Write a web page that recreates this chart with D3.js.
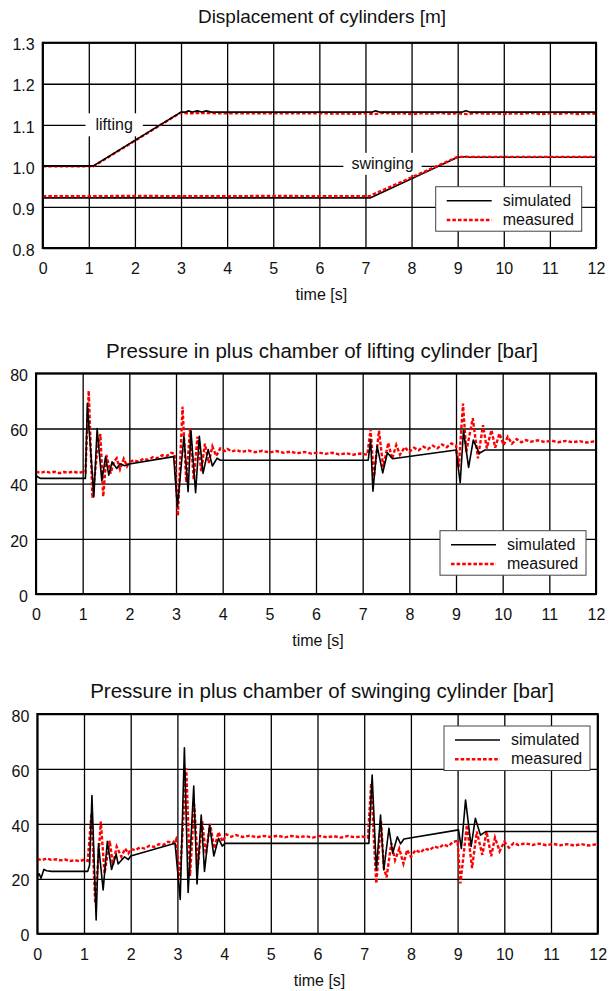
<!DOCTYPE html>
<html><head><meta charset="utf-8">
<script src="https://cdn.jsdelivr.net/npm/d3@7"></script>
<style>
body{margin:0;background:#fff}
text{font-family:"Liberation Sans",Arial,sans-serif;fill:#111}
</style>
</head><body>
<svg id="c" width="610" height="991"></svg>
<script>
// ---------- tick labels ----------
const timeTicks = [0,1,2,3,4,5,6,7,8,9,10,11,12];
const dispTicks = [0.8,0.9,1.0,1.1,1.2,1.3];
const pressTicks = [0,20,40,60,80];

// ---------- displacement of cylinders [m] ----------
const dispLiftSim = [[0,1.0],[1.1,1.0],[3.0,1.131],[3.1,1.131],[3.15,1.134],[3.25,1.131],[3.35,1.134],[3.45,1.131],[3.55,1.134],[3.65,1.131],[3.8,1.131],[7.15,1.131],[7.22,1.134],[7.3,1.131],[9.1,1.131],[9.18,1.134],[9.26,1.131],[12,1.131]];
const dispLiftMeas = [[0,0.999],[1.1,0.999],[2.98,1.129],[3.2,1.128],[3.5,1.129],[3.8,1.128],[4.2,1.128],[5,1.128],[6,1.128],[6.8,1.127],[7.0,1.128],[7.2,1.126],[7.4,1.129],[7.6,1.127],[7.8,1.128],[8.0,1.126],[8.2,1.128],[8.4,1.127],[8.6,1.129],[8.8,1.127],[9.0,1.128],[9.2,1.126],[9.4,1.129],[9.6,1.127],[9.8,1.128],[10.0,1.126],[10.2,1.128],[10.4,1.127],[10.6,1.129],[10.8,1.126],[11.0,1.128],[11.2,1.127],[11.4,1.129],[11.6,1.126],[11.8,1.128],[12,1.127]];
const dispSwingSim = [[0,0.922],[7.1,0.922],[9.0,1.021],[9.1,1.021],[9.18,1.023],[9.26,1.021],[12,1.021]];
const dispSwingMeas = [[0,0.926],[1,0.926],[2,0.927],[3,0.926],[4,0.926],[5,0.927],[6,0.926],[7.08,0.926],[9.0,1.022],[9.5,1.022],[10,1.022],[11,1.022],[12,1.022]];

// ---------- pressure lifting cylinder [bar] ----------
const liftPSim = [[0,43],[0.05,42.3],[0.1,41.9],[1.06,41.9],[1.1,69],[1.24,35.3],[1.31,60],[1.41,41],[1.49,49.7],[1.56,43.1],[1.63,47.9],[1.73,45.5],[1.8,47.2],[1.9,46.5],[2.0,47.1],[2.95,49.8],[3.03,31.6],[3.17,57.2],[3.26,37.1],[3.32,59.2],[3.42,36.7],[3.5,57.2],[3.58,43.7],[3.69,52.4],[3.78,46.4],[3.88,49.2],[3.95,48.5],[7.12,48.5],[7.17,56],[7.22,37.3],[7.31,53.6],[7.43,43.9],[7.53,51.2],[7.64,49],[9.0,52.2],[9.09,40.3],[9.16,59.2],[9.27,45.9],[9.37,55.8],[9.5,51],[9.62,52.2],[12,52.2]];
const liftPMeas = [[0,44.3],[0.1,43.9],[0.2,44.4],[0.3,44.0],[0.4,44.3],[0.5,43.8],[0.6,44.2],[0.7,44.0],[0.8,44.4],[0.9,43.9],[1.0,44.2],[1.06,44.0],[1.13,73.7],[1.21,34.7],[1.3,50],[1.38,58],[1.44,35.3],[1.51,50.4],[1.6,43.7],[1.67,48],[1.73,49.2],[1.8,45.2],[1.88,49],[1.95,46.3],[2.0,47.8],[2.1,48.5],[2.2,47.9],[2.3,49],[2.4,48.6],[2.5,49.6],[2.6,49.2],[2.7,50.3],[2.8,50],[2.9,51.2],[2.97,50.8],[3.04,28.3],[3.14,67.9],[3.22,40.5],[3.3,60],[3.38,41.5],[3.46,57],[3.54,44.5],[3.62,54.5],[3.7,47.5],[3.78,53.5],[3.86,50],[3.95,52.8],[4.05,51.8],[4.1,52.6],[4.2,51.7],[4.3,52.2],[4.4,51.5],[4.55,52.0],[4.7,51.4],[4.85,51.9],[5.0,51.3],[5.15,51.8],[5.3,51.2],[5.45,51.6],[5.6,51.0],[5.75,51.5],[5.9,50.9],[6.05,51.3],[6.2,50.8],[6.35,51.2],[6.5,50.6],[6.65,51.0],[6.8,50.5],[6.95,50.9],[7.1,50.5],[7.17,59.7],[7.24,42.5],[7.35,59.2],[7.44,46.1],[7.55,54.8],[7.63,49],[7.72,54],[7.8,50.5],[7.9,53.2],[8.0,51.5],[8.1,53],[8.2,52.1],[8.3,53.4],[8.4,52.5],[8.5,53.8],[8.6,52.8],[8.7,54.2],[8.8,53.2],[8.9,54.6],[9.0,53.8],[9.06,46],[9.15,69],[9.22,51.5],[9.36,63.7],[9.47,49.2],[9.58,61.2],[9.66,52.8],[9.76,59.4],[9.84,53],[9.93,58.2],[10.02,54],[10.11,57],[10.2,54.5],[10.3,56.2],[10.4,55],[10.5,55.8],[10.6,55.2],[10.75,55.7],[10.9,55.1],[11.05,55.6],[11.2,55.0],[11.35,55.5],[11.5,55.0],[11.65,55.4],[11.8,54.9],[11.95,55.3],[12,55.1]];

// ---------- pressure swinging cylinder [bar] ----------
const swPSim = [[0,20.9],[0.04,21.8],[0.08,20.2],[0.14,23.4],[0.2,22.9],[0.3,22.7],[1.08,22.7],[1.12,25],[1.17,50.3],[1.26,5],[1.31,32.7],[1.41,15.9],[1.5,33.6],[1.59,23.4],[1.69,29],[1.73,25.4],[1.87,28],[1.95,27],[2.0,28.3],[2.95,32.9],[3.06,12.5],[3.15,67.7],[3.23,15],[3.35,53.8],[3.42,18.1],[3.51,43.2],[3.58,22.7],[3.69,39.6],[3.78,28.3],[3.88,34.7],[3.96,31.9],[4.02,32.9],[7.1,32.9],[7.17,57.8],[7.26,23.2],[7.35,43.2],[7.42,23.2],[7.53,38.4],[7.61,29.3],[7.71,35.3],[7.78,32.7],[7.85,34.5],[9.02,37.8],[9.08,31],[9.17,48.7],[9.29,31.8],[9.38,42],[9.49,35.9],[9.6,37.2],[12,37.2]];
const swPMeas = [[0,27.2],[0.1,26.8],[0.2,27.4],[0.3,26.9],[0.4,27.1],[0.5,26.7],[0.6,27.0],[0.7,26.5],[0.8,26.8],[0.9,26.4],[1.0,26.9],[1.08,26.5],[1.16,43.8],[1.24,11.1],[1.36,40.8],[1.44,22],[1.55,33.9],[1.62,25],[1.7,31.7],[1.8,28],[1.88,31],[1.95,29.2],[2.0,30.8],[2.1,30.5],[2.2,31.4],[2.3,31],[2.4,32],[2.5,31.6],[2.6,32.6],[2.7,32.3],[2.8,33.5],[2.9,33],[2.97,34.5],[3.05,19.6],[3.19,60.2],[3.27,21],[3.36,47],[3.44,25],[3.53,41],[3.61,29],[3.7,40],[3.79,31],[3.88,37],[3.97,33.5],[4.05,36.2],[4.15,35.3],[4.25,35.9],[4.4,35.2],[4.55,35.7],[4.7,35.1],[4.85,35.6],[5.0,35.2],[5.15,35.7],[5.3,35.1],[5.45,35.6],[5.6,35.2],[5.75,35.5],[5.9,35.0],[6.05,35.6],[6.2,35.1],[6.35,35.5],[6.5,35.0],[6.65,35.6],[6.8,35.1],[6.95,35.4],[7.08,35.0],[7.15,54.8],[7.22,30],[7.26,18.3],[7.36,41],[7.42,24],[7.48,20.5],[7.58,33],[7.66,26.8],[7.75,31],[7.84,25.5],[7.92,30.5],[8.0,28],[8.1,30.5],[8.2,29.5],[8.3,31],[8.4,30.4],[8.5,31.8],[8.6,31.2],[8.7,32.5],[8.8,31.8],[8.9,33.4],[9.0,33.8],[9.06,18.3],[9.2,39.6],[9.31,23.9],[9.41,37.2],[9.53,28.7],[9.62,37.2],[9.72,28.2],[9.8,35],[9.9,30],[10.0,33.5],[10.1,31.3],[10.2,33],[10.3,32.3],[10.45,32.9],[10.6,32.3],[10.75,32.8],[10.9,32.2],[11.05,32.7],[11.2,32.2],[11.35,32.6],[11.5,32.1],[11.65,32.6],[11.8,32.1],[11.95,32.5],[12,32.3]];

const legendLabels = ["simulated","measured"];

// ---------- drawing ----------
const svg = d3.select("#c");
const RED = "#ff0000", DASH = "3.6,2";

function chart(cfg){
  const g = svg.append("g");
  const x = d3.scaleLinear().domain([0,12]).range([cfg.left,cfg.right]);
  const y = d3.scaleLinear().domain(cfg.yDomain).range([cfg.bottom,cfg.top]);
  const w = cfg.right-cfg.left, h = cfg.bottom-cfg.top;

  g.append("g").attr("transform",`translate(0,${cfg.bottom})`)
    .call(d3.axisBottom(x).tickValues(timeTicks).tickSize(-h).tickFormat(""))
    .call(a=>a.select(".domain").remove())
    .call(a=>a.selectAll("line").attr("stroke","#000").attr("stroke-width",1.3));
  g.append("g").attr("transform",`translate(${cfg.left},0)`)
    .call(d3.axisLeft(y).tickValues(cfg.yTicks).tickSize(-w).tickFormat(""))
    .call(a=>a.select(".domain").remove())
    .call(a=>a.selectAll("line").attr("stroke","#000").attr("stroke-width",1.3));

  g.append("g").attr("transform",`translate(0,${cfg.bottom})`)
    .call(d3.axisBottom(x).tickValues(timeTicks).tickSize(0).tickPadding(15).tickFormat(d3.format("d")))
    .call(a=>a.select(".domain").remove())
    .call(a=>a.selectAll("text").style("font-size","16px").attr("fill","#111"));
  g.append("g").attr("transform",`translate(${cfg.left},0)`)
    .call(d3.axisLeft(y).tickValues(cfg.yTicks).tickSize(0).tickPadding(8).tickFormat(cfg.fmt))
    .call(a=>a.select(".domain").remove())
    .call(a=>a.selectAll("text").style("font-size","16px").attr("fill","#111").attr("dy","0.45em"));

  (cfg.notes||[]).forEach(n=>{
    const t = g.append("text").attr("x",x(n.t)).attr("y",y(n.v)).attr("dy","0.35em")
      .attr("text-anchor","middle").style("font-size","16px").text(n.label);
    const bb = t.node().getBBox();
    g.insert("rect", function(){return t.node();})
      .attr("x",bb.x-n.padX).attr("y",y(n.v)-n.h/2).attr("width",bb.width+2*n.padX).attr("height",n.h)
      .attr("fill","#fff");
  });

  const line = d3.line().x(d=>x(d[0])).y(d=>y(d[1]));
  cfg.series.forEach(s=>{
    const p = g.append("path").datum(s.data).attr("d",line).attr("fill","none");
    if(s.kind==="sim") p.attr("stroke","#000").attr("stroke-width",1.6).attr("stroke-linejoin","round");
    else p.attr("stroke",RED).attr("stroke-width",2.4).attr("stroke-dasharray",DASH);
  });

  g.append("rect").attr("x",cfg.left).attr("y",cfg.top).attr("width",w).attr("height",h)
    .attr("fill","none").attr("stroke","#000").attr("stroke-width",2);

  g.append("text").attr("x",322).attr("y",cfg.titleY).attr("text-anchor","middle")
    .style("font-size",cfg.titleSize+"px").text(cfg.title);
  g.append("text").attr("x",(cfg.left+cfg.right)/2+2).attr("y",cfg.bottom+52).attr("text-anchor","middle")
    .style("font-size","16px").text("time [s]");

  const L = cfg.legend;
  const lg = g.append("g").attr("transform",`translate(${L.x},${L.y})`);
  lg.append("rect").attr("width",146).attr("height",44.5).attr("fill","#fff")
    .attr("stroke","#444").attr("stroke-width",1);
  lg.append("line").attr("x1",11).attr("x2",56).attr("y1",14).attr("y2",14)
    .attr("stroke","#000").attr("stroke-width",1.6);
  lg.append("line").attr("x1",11).attr("x2",56).attr("y1",33.3).attr("y2",33.3)
    .attr("stroke",RED).attr("stroke-width",2.4).attr("stroke-dasharray",DASH);
  lg.selectAll("text.lab").data(legendLabels).join("text").attr("class","lab")
    .attr("x",67).attr("y",(d,i)=>19+i*19.3).style("font-size","16px").text(d=>d);
}

chart({left:42.7,right:596,top:42.7,bottom:248,yDomain:[0.8,1.3],yTicks:dispTicks,fmt:d3.format(".1f"),
  title:"Displacement of cylinders [m]",titleY:23,titleSize:19,
  series:[{kind:"meas",data:dispLiftMeas},{kind:"sim",data:dispLiftSim},{kind:"sim",data:dispSwingSim},{kind:"meas",data:dispSwingMeas}],
  legend:{x:435.7,y:186.7},
  notes:[{label:"lifting",t:1.55,v:1.1,padX:10,h:23},{label:"swinging",t:7.37,v:1.005,padX:8,h:22}]});

chart({left:36,right:596,top:373.3,bottom:594,yDomain:[0,80],yTicks:pressTicks,fmt:d3.format("d"),
  title:"Pressure in plus chamber of lifting cylinder [bar]",titleY:358,titleSize:20.5,
  series:[{kind:"meas",data:liftPMeas},{kind:"sim",data:liftPSim}],
  legend:{x:440,y:530.7}});

chart({left:37.3,right:597.7,top:714,bottom:933.7,yDomain:[0,80],yTicks:pressTicks,fmt:d3.format("d"),
  title:"Pressure in plus chamber of swinging cylinder [bar]",titleY:698,titleSize:20.5,
  series:[{kind:"meas",data:swPMeas},{kind:"sim",data:swPSim}],
  legend:{x:444,y:726}});
</script>
</body></html>
